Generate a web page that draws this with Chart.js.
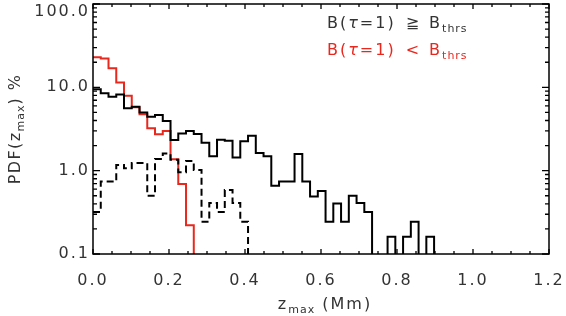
<!DOCTYPE html>
<html>
<head>
<meta charset="utf-8">
<title>PDF z_max</title>
<script src="https://cdn.jsdelivr.net/npm/chart.js"></script>
<style>
    html, body { margin: 0; padding: 0; background: #fff; }
</style>
</head>
<body>
<canvas id="pdfChart" width="566" height="316"></canvas>
<script>
    // bin width of the histograms, Mm
    const binWidth = 0.0204;

    // PDF in %, one value per bin starting at z = 0 (0 = empty bin)
    const strongField = [9.5, 8.5, 7.7, 8.2, 5.6, 5.85, 5.0, 4.45, 4.65, 3.95,
        2.33, 2.8, 3.0, 2.75, 2.17, 1.49, 2.35, 2.28, 1.44, 2.25,
        2.62, 1.63, 1.49, 0.66, 0.74, 0.74, 1.58, 0.74, 0.49, 0.57,
        0.244, 0.405, 0.244, 0.5, 0.41, 0.32, 0, 0, 0.161, 0,
        0.161, 0.244, 0, 0.161];
    const strongDashed = [0.32, 0.74, 0.74, 1.17, 1.07, 1.24, 1.24, 0.5, 1.38, 1.61,
        1.35, 0.96, 1.31, 1.02, 0.244, 0.41, 0.32, 0.585, 0.41, 0.244];
    const weakField = [23.0, 22.2, 16.9, 11.4, 7.9, 5.75, 4.74, 3.22, 2.73, 2.99,
        1.37, 0.69, 0.222];

    const xTicks = [0.0, 0.2, 0.4, 0.6, 0.8, 1.0, 1.2];
    const yTicks = [0.1, 1, 10, 100];

    const FONT = '"DejaVu Sans", sans-serif';
    const TEXT = '#333';
    const RED = '#e8281e';
    const BELOW = 1e-3; // empty bins drop below the axis

    function toSteps(values) {
        const pts = values.map((v, i) => ({ x: i * binWidth, y: v > 0 ? v : BELOW }));
        pts.push({ x: values.length * binWidth, y: BELOW });
        return pts;
    }

    // draws text pieces one after another, subscripts smaller and lower
    function drawRich(ctx, parts, x, y, align, spacing) {
        const setFont = p => {
            ctx.font = (p.italic ? 'italic ' : '') + p.size + 'px ' + FONT;
            ctx.letterSpacing = p.sub ? '1px' : spacing + 'px';
        };
        let total = 0;
        parts.forEach(p => {
            if (p.gap) { p.w = p.gap; } else { setFont(p); p.w = ctx.measureText(p.t).width; }
            total += p.w;
        });
        let cx = align === 'center' ? x - total / 2 : x;
        parts.forEach(p => {
            if (!p.gap) {
                setFont(p);
                ctx.fillText(p.t, cx, y + (p.sub ? 4 : 0));
            }
            cx += p.w;
        });
    }

    const frame = {
        id: 'frame',
        beforeDraw(chart) {
            chart.ctx.letterSpacing = '2px';
        },
        afterDraw(chart) {
            const { ctx, chartArea: a, scales: { x, y } } = chart;
            ctx.save();
            ctx.strokeStyle = '#000';
            ctx.lineWidth = 1.5;
            ctx.strokeRect(a.left, a.top, a.right - a.left, a.bottom - a.top);

            // inward ticks on all four sides
            ctx.lineWidth = 1.3;
            ctx.beginPath();
            for (let k = 0; k <= 24; k++) {
                const px = x.getPixelForValue(k * 0.05);
                const len = k % 4 === 0 ? 5 : 3;
                ctx.moveTo(px, a.bottom); ctx.lineTo(px, a.bottom - len);
                ctx.moveTo(px, a.top); ctx.lineTo(px, a.top + len);
            }
            for (let e = -1; e <= 2; e++) {
                for (let m = 1; m <= 9; m++) {
                    if (e === 2 && m > 1) break;
                    const py = y.getPixelForValue(m * Math.pow(10, e));
                    const len = m === 1 ? 7 : 4;
                    ctx.moveTo(a.left, py); ctx.lineTo(a.left + len, py);
                    ctx.moveTo(a.right, py); ctx.lineTo(a.right - len, py);
                }
            }
            ctx.stroke();

            ctx.textBaseline = 'alphabetic';
            ctx.textAlign = 'left';
            ctx.fillStyle = TEXT;

            // x title
            drawRich(ctx, [
                { t: 'z', size: 16 },
                { t: 'max', size: 11, sub: true },
                { t: ' (Mm)', size: 16 }
            ], (a.left + a.right) / 2 + 4, 309, 'center', 2);

            // y title
            ctx.save();
            ctx.translate(20, (a.top + a.bottom) / 2);
            ctx.rotate(-Math.PI / 2);
            drawRich(ctx, [
                { t: 'PDF(', size: 16 },
                { t: 'z', size: 16 },
                { t: 'max', size: 11, sub: true },
                { t: ') %', size: 16 }
            ], 0, 0, 'center', 1.4);
            ctx.restore();

            // legend
            const rows = [
                { sym: '\u2267', color: TEXT, y: 28 },
                { sym: '<', color: RED, y: 55 }
            ];
            rows.forEach(r => {
                ctx.fillStyle = r.color;
                drawRich(ctx, [
                    { t: 'B(', size: 16 },
                    { t: '\u03c4', size: 16, italic: true },
                    { t: '=1)', size: 16 },
                    { gap: 10 },
                    { t: r.sym, size: 16 },
                    { gap: 8 },
                    { t: 'B', size: 16 },
                    { t: 'thrs', size: 11, sub: true }
                ], 327, r.y, 'left', 2);
            });
            ctx.restore();
        }
    };

    const lineStyle = { borderWidth: 2, stepped: true, pointRadius: 0, fill: false };

    new Chart(document.getElementById('pdfChart').getContext('2d'), {
        type: 'line',
        data: {
            datasets: [
                { ...lineStyle, data: toSteps(strongField), borderColor: '#000' },
                { ...lineStyle, data: toSteps(strongDashed), borderColor: '#000', borderDash: [7, 4] },
                { ...lineStyle, data: toSteps(weakField), borderColor: RED }
            ]
        },
        options: {
            responsive: false,
            animation: false,
            devicePixelRatio: 1,
            layout: { padding: { left: 0, top: 4, right: 17, bottom: 0 } },
            plugins: { legend: { display: false }, tooltip: { enabled: false } },
            scales: {
                x: {
                    type: 'linear',
                    min: 0,
                    max: 1.2,
                    afterBuildTicks: s => { s.ticks = xTicks.map(v => ({ value: v })); },
                    afterFit: s => { s.height = 62; s.paddingLeft = 0; s.paddingRight = 0; },
                    ticks: {
                        callback: v => v.toFixed(1),
                        font: { family: FONT, size: 16 },
                        color: TEXT,
                        padding: 17,
                        maxRotation: 0,
                        autoSkip: false
                    },
                    grid: { display: false, drawTicks: false },
                    border: { display: false }
                },
                y: {
                    type: 'logarithmic',
                    min: 0.1,
                    max: 100,
                    afterBuildTicks: s => { s.ticks = yTicks.map(v => ({ value: v })); },
                    afterFit: s => { s.width = 93; s.paddingTop = 0; s.paddingBottom = 0; },
                    ticks: {
                        // top label sits below its tick, as in the original
                        callback: v => v === 100 ? ['', '100.0'] : (v >= 1 ? v.toFixed(1) : String(v)),
                        font: { family: FONT, size: 16, lineHeight: 1 },
                        color: TEXT,
                        padding: 3,
                        autoSkip: false
                    },
                    grid: { display: false, drawTicks: false },
                    border: { display: false }
                }
            }
        },
        plugins: [frame]
    });
</script>
</body>
</html>
